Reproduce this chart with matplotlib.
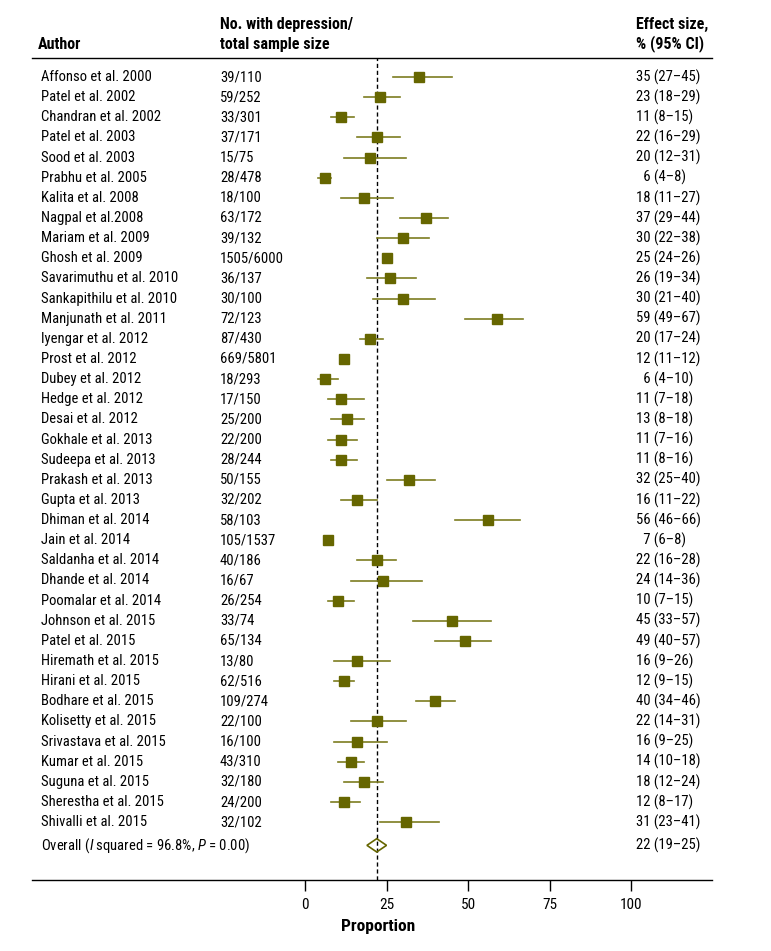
import matplotlib
matplotlib.use("Agg")
import matplotlib.pyplot as plt
from matplotlib.patches import Polygon

plt.rcParams["font.family"] = ["Roboto Condensed", "DejaVu Sans"]
plt.rcParams["mathtext.fontset"] = "custom"
plt.rcParams["mathtext.rm"] = "Roboto Condensed"
plt.rcParams["mathtext.it"] = "Roboto Condensed:italic"

# STUDY DATA
authors = ["Affonso et al. 2000", "Patel et al. 2002", "Chandran et al. 2002", "Patel et al. 2003",
           "Sood et al. 2003", "Prabhu et al. 2005", "Kalita et al. 2008", "Nagpal et al.2008",
           "Mariam et al. 2009", "Ghosh et al. 2009", "Savarimuthu et al. 2010", "Sankapithilu et al. 2010",
           "Manjunath et al. 2011", "Iyengar et al. 2012", "Prost et al. 2012", "Dubey et al. 2012",
           "Hedge et al. 2012", "Desai et al. 2012", "Gokhale et al. 2013", "Sudeepa et al. 2013",
           "Prakash et al. 2013", "Gupta et al. 2013", "Dhiman et al. 2014", "Jain et al. 2014",
           "Saldanha et al. 2014", "Dhande et al. 2014", "Poomalar et al. 2014", "Johnson et al. 2015",
           "Patel et al. 2015", "Hiremath et al. 2015", "Hirani et al. 2015", "Bodhare et al. 2015",
           "Kolisetty et al. 2015", "Srivastava et al. 2015", "Kumar et al. 2015", "Suguna et al. 2015",
           "Sherestha et al. 2015", "Shivalli et al. 2015"]
samples = ["39/110", "59/252", "33/301", "37/171", "15/75", "28/478", "18/100", "63/172",
           "39/132", "1505/6000", "36/137", "30/100", "72/123", "87/430", "669/5801", "18/293",
           "17/150", "25/200", "22/200", "28/244", "50/155", "32/202", "58/103", "105/1537",
           "40/186", "16/67", "26/254", "33/74", "65/134", "13/80", "62/516", "109/274",
           "22/100", "16/100", "43/310", "32/180", "24/200", "32/102"]
est = [35, 23, 11, 22, 20, 6, 18, 37, 30, 25, 26, 30, 59, 20, 12, 6, 11, 13, 11, 11,
       32, 16, 56, 7, 22, 24, 10, 45, 49, 16, 12, 40, 22, 16, 14, 18, 12, 31]
lo = [27, 18, 8, 16, 12, 4, 11, 29, 22, 24, 19, 21, 49, 17, 11, 4, 7, 8, 7, 8,
      25, 11, 46, 6, 16, 14, 7, 33, 40, 9, 9, 34, 14, 9, 10, 12, 8, 23]
hi = [45, 29, 15, 29, 31, 8, 27, 44, 38, 26, 34, 40, 67, 24, 12, 10, 18, 18, 16, 16,
      40, 22, 66, 8, 28, 36, 15, 57, 57, 26, 15, 46, 31, 25, 18, 24, 17, 41]
overall = (22, 19, 25)

olive = "#666600"
line_c = "#7d7d20"
fs = 10.5

# layout in pixels: x=0 at px 305, 3.26 px per unit; rows every 20.14 px from px 77
fig = plt.figure(figsize=(7.71, 9.51), dpi=100)
ax = fig.add_axes([32 / 771, 1 - 880 / 951, (712 - 32) / 771, (880 - 58) / 951])
ax.set_xlim((32 - 305) / 3.26, (712 - 305) / 3.26)
ax.set_ylim((880 - 77) / 20.14, (58 - 77) / 20.14)

x_auth = (41 - 305) / 3.26
x_samp = (220 - 305) / 3.26
x_eff = (636 - 305) / 3.26

for i, a in enumerate(authors):
    ax.plot([lo[i], hi[i]], [i, i], color=line_c, lw=1.2, zorder=2)
    ax.plot(est[i], i, marker="s", ms=7, color=olive, zorder=3)
    ax.text(x_auth, i, a, fontsize=fs, va="center", ha="left")
    ax.text(x_samp, i, samples[i], fontsize=fs, va="center", ha="left")
    pad = "\u2007" if est[i] < 10 else ""
    ax.text(x_eff, i, f"{pad}{est[i]} ({lo[i]}\u2013{hi[i]})", fontsize=fs, va="center", ha="left")

# overall row
yo = 38.15
m, l, h = overall
ax.add_patch(Polygon([[l, yo], [m, yo - 0.33], [h, yo], [m, yo + 0.33]], closed=True,
                     fill=False, edgecolor=olive, lw=1.2, zorder=3))
ax.text(x_auth, yo, "Overall ($\\it{I}$ squared = 96.8%, $\\it{P}$ = 0.00)", fontsize=fs, va="center", ha="left")
ax.text(x_eff, yo, f"{m} ({l}\u2013{h})", fontsize=fs, va="center", ha="left")

# pooled estimate line
ax.axvline(m, color="black", ls=(0, (3, 2)), lw=1.0, zorder=1)

# headers
y1, y2 = (24 - 77) / 20.14, (44 - 77) / 20.14
hfs = 11.5
ax.text((38 - 305) / 3.26, y2, "Author", fontsize=hfs, weight="bold", va="center", clip_on=False)
ax.text(x_samp, y1, "No. with depression/", fontsize=hfs, weight="bold", va="center", clip_on=False)
ax.text(x_samp, y2, "total sample size", fontsize=hfs, weight="bold", va="center", clip_on=False)
ax.text(x_eff, y1, "Effect size,", fontsize=hfs, weight="bold", va="center", clip_on=False)
ax.text(x_eff, y2, "% (95% CI)", fontsize=hfs, weight="bold", va="center", clip_on=False)

# axes styling
for s in ["left", "right"]:
    ax.spines[s].set_visible(False)
ax.spines["top"].set_linewidth(1.0)
ax.spines["bottom"].set_linewidth(1.0)
ax.set_yticks([])
ax.set_xticks([0, 25, 50, 75, 100])
ax.tick_params(axis="x", direction="out", length=8, width=1, labelsize=11, pad=5)
ax.text(22.5, (927 - 77) / 20.14, "Proportion", fontsize=12.5, weight="bold", ha="center", va="center", clip_on=False)

fig.savefig("out.png", dpi=100)
